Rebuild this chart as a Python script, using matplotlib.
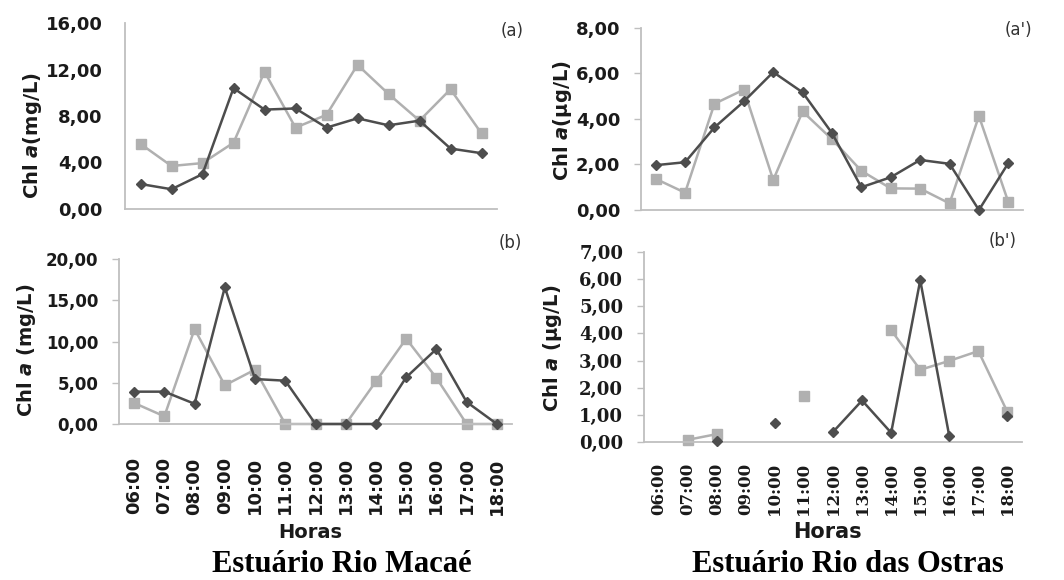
import numpy as np
import matplotlib
matplotlib.use("Agg")
import matplotlib.pyplot as plt
from matplotlib.ticker import FuncFormatter, MultipleLocator

plt.rcParams['mathtext.fontset'] = 'custom'
plt.rcParams['mathtext.it'] = 'DejaVu Sans:italic:bold'
plt.rcParams['mathtext.rm'] = 'DejaVu Sans:bold'

nan = np.nan
hours = ["06:00", "07:00", "08:00", "09:00", "10:00", "11:00", "12:00",
         "13:00", "14:00", "15:00", "16:00", "17:00", "18:00"]

# (a) Estuário Rio Macaé - 12 samples
a_dark = [2.15, 1.7, 3.0, 10.4, 8.55, 8.65, 7.0, 7.8, 7.2, 7.6, 5.2, 4.8]
a_light = [5.6, 3.7, 3.95, 5.7, 11.8, 7.0, 8.1, 12.4, 9.9, 7.6, 10.3, 6.5]

# (a') Estuário Rio das Ostras
a2_dark = [1.97, 2.1, 3.63, 4.77, 6.06, 5.17, 3.38, 1.0, 1.44, 2.2, 2.03, 0.0, 2.06]
a2_light = [1.37, 0.76, 4.67, 5.29, 1.32, 4.33, 3.11, 1.72, 0.95, 0.94, 0.29, 4.13, 0.35]

# (b) Estuário Rio Macaé
b_dark = [3.92, 3.92, 2.45, 16.57, 5.45, 5.25, 0.0, 0.0, 0.0, 5.66, 9.09, 2.67, 0.0]
b_light = [2.55, 0.93, 11.5, 4.69, 6.59, 0.0, 0.0, 0.0, 5.17, 10.34, 5.58, 0.0, 0.0]

# (b') Estuário Rio das Ostras
b2_dark = [nan, nan, 0.05, nan, 0.71, nan, 0.37, 1.53, 0.34, 5.96, 0.21, nan, 0.94]
b2_light = [nan, 0.08, 0.29, nan, nan, 1.71, nan, nan, 4.12, 2.66, 2.99, 3.35, 1.1]

DARK = '#4d4d4d'
LIGHT = '#b0b0b0'
SPINE = '#bfbfbf'

W, H = 1064, 580
fig = plt.figure(figsize=(W / 100, H / 100), dpi=100)
fig.patch.set_facecolor('white')


def px_axes(x0, x1, y0, y1):
    return fig.add_axes([x0 / W, 1 - y1 / H, (x1 - x0) / W, (y1 - y0) / H])


comma = FuncFormatter(lambda v, p: f"{v:.2f}".replace('.', ','))


def style(ax, n, ymax, step, tick_len, ypad, yfont, ysize, show_x, xfont=None, xsize=12, xpad=20):
    ax.set_xlim(-0.5, n - 0.5)
    ax.set_ylim(0, ymax)
    ax.yaxis.set_major_locator(MultipleLocator(step))
    ax.yaxis.set_major_formatter(comma)
    for s in ['top', 'right']:
        ax.spines[s].set_visible(False)
    for s in ['left', 'bottom']:
        ax.spines[s].set_color(SPINE)
        ax.spines[s].set_linewidth(1.3)
    ax.tick_params(axis='y', length=tick_len, width=1.0, color=SPINE, pad=ypad)
    ax.tick_params(axis='x', length=0)
    for lab in ax.get_yticklabels():
        lab.set_fontfamily(yfont)
        lab.set_fontweight('bold')
        lab.set_fontsize(ysize)
        lab.set_color('#1a1a1a')
    if show_x:
        ax.set_xticks(range(n))
        ax.set_xticklabels(hours, rotation=90, fontfamily=xfont, fontweight='bold',
                           fontsize=xsize, color='#1a1a1a')
        ax.tick_params(axis='x', pad=xpad)
    else:
        ax.set_xticks([])


def plot_pair(ax, dark, light):
    x = np.arange(len(dark))
    ax.plot(x, light, color=LIGHT, lw=1.8, marker='s', ms=7, mec=LIGHT, mfc=LIGHT, zorder=2, clip_on=False)
    ax.plot(x, dark, color=DARK, lw=1.8, marker='D', ms=5, mec=DARK, mfc=DARK, zorder=3, clip_on=False)


# (a)
ax1 = px_axes(125, 497, 23, 209)
plot_pair(ax1, a_dark, a_light)
style(ax1, 12, 16, 4, 0, 16, 'DejaVu Sans', 13, False)

# (a')
ax2 = px_axes(641, 1023, 28, 210)
plot_pair(ax2, a2_dark, a2_light)
style(ax2, 13, 8, 2, 5, 10, 'DejaVu Sans', 13, False)

# (b)
ax3 = px_axes(119, 512, 259, 424)
plot_pair(ax3, b_dark, b_light)
style(ax3, 13, 20, 5, 5, 10, 'DejaVu Sans', 12, True, 'DejaVu Sans', 13, 24)

# (b')
ax4 = px_axes(644, 1022, 252, 442)
plot_pair(ax4, b2_dark, b2_light)
style(ax4, 13, 7, 1, 5, 10, 'DejaVu Serif', 13, True, 'DejaVu Serif', 12, 15)

# y labels
lab_kw = dict(rotation=90, ha='center', va='center', fontfamily='DejaVu Sans',
              fontweight='bold', color='#1a1a1a')
fig.text(33 / W, 1 - 136 / H, r'Chl $a$(mg/L)', fontsize=14, **lab_kw)
fig.text(563 / W, 1 - 121 / H, r'Chl $a$(µg/L)', fontsize=14, **lab_kw)
fig.text(27 / W, 1 - 350 / H, r'Chl $a$ (mg/L)', fontsize=14, **lab_kw)
fig.text(553 / W, 1 - 348 / H, r'Chl $a$ (µg/L)', fontsize=14, **lab_kw)

# panel letters
pl_kw = dict(ha='center', va='center', fontfamily='DejaVu Sans', fontsize=12, color='#333333')
fig.text(512 / W, 1 - 31 / H, '(a)', **pl_kw)
fig.text(1018 / W, 1 - 30 / H, "(a')", **pl_kw)
fig.text(510 / W, 1 - 243 / H, '(b)', **pl_kw)
fig.text(1003 / W, 1 - 241 / H, "(b')", **pl_kw)

# x labels
fig.text(310 / W, 1 - 533 / H, 'Horas', ha='center', va='center', fontfamily='DejaVu Sans',
         fontweight='bold', fontsize=14, color='#1a1a1a')
fig.text(827 / W, 1 - 532 / H, 'Horas', ha='center', va='center', fontfamily='DejaVu Sans',
         fontweight='bold', fontsize=15, color='#1a1a1a')

# titles
fig.text(342 / W, 1 - 572 / H, 'Estuário Rio Macaé', ha='center', va='baseline',
         fontfamily='Liberation Serif', fontweight='bold', fontsize=22, color='black')
fig.text(848 / W, 1 - 572 / H, 'Estuário Rio das Ostras', ha='center', va='baseline',
         fontfamily='Liberation Serif', fontweight='bold', fontsize=22, color='black')

fig.savefig('out.png', dpi=100, facecolor='white')
